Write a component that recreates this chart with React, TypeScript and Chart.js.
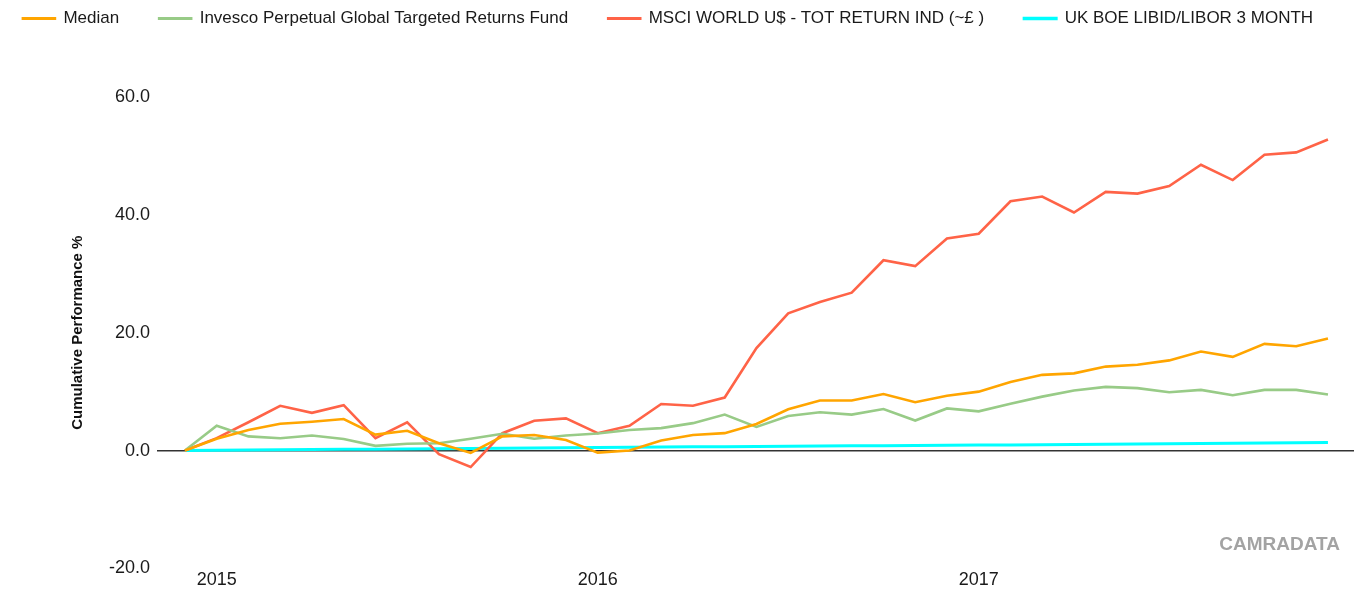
import React, { useEffect, useRef } from "react";
import { Chart, registerables } from "chart.js";

Chart.register(...registerables);

const seriesNames = [
  "Median",
  "Invesco Perpetual Global Targeted Returns Fund",
  "MSCI WORLD U$ - TOT RETURN IND (~£ )",
  "UK BOE LIBID/LIBOR 3 MONTH",
];

const seriesColors = ["#FFA500", "#98CB87", "#FF6347", "#00FFFF"];

// monthly points, Dec 2014 .. Dec 2017 (index 0..36)
const median = [0, 2.0, 3.5, 4.55, 4.9, 5.35, 2.7, 3.35, 1.25, -0.4, 2.4, 2.65, 1.8, -0.35, 0.0, 1.7, 2.65, 2.95, 4.5, 7.0, 8.5, 8.5, 9.6, 8.2, 9.3, 10.0, 11.65, 12.85, 13.1, 14.25, 14.55, 15.3, 16.8, 15.9, 18.1, 17.7, 19.0];
const invesco = [0, 4.2, 2.4, 2.1, 2.55, 1.95, 0.8, 1.15, 1.25, 2.0, 2.85, 2.0, 2.55, 2.9, 3.5, 3.8, 4.65, 6.1, 4.0, 5.85, 6.5, 6.1, 7.05, 5.1, 7.15, 6.65, 7.95, 9.15, 10.2, 10.8, 10.6, 9.9, 10.3, 9.4, 10.3, 10.3, 9.5];
const msci = [0, 2.1, 4.8, 7.6, 6.4, 7.7, 2.1, 4.8, -0.6, -2.8, 2.95, 5.05, 5.45, 2.95, 4.2, 7.9, 7.6, 9.0, 17.4, 23.3, 25.2, 26.8, 32.3, 31.3, 36.0, 36.8, 42.3, 43.1, 40.4, 43.9, 43.6, 44.9, 48.5, 45.9, 50.2, 50.6, 52.8];
const libor = [0, 0.04, 0.08, 0.12, 0.16, 0.2, 0.24, 0.28, 0.32, 0.36, 0.4, 0.44, 0.48, 0.52, 0.56, 0.6, 0.63, 0.66, 0.7, 0.73, 0.76, 0.8, 0.83, 0.86, 0.9, 0.93, 0.96, 1.0, 1.03, 1.06, 1.1, 1.14, 1.18, 1.22, 1.27, 1.32, 1.38];

const yearLabels = ["2015", "2016", "2017"];
const yearIndex = [1, 13, 25];

const yTicks = [-20, 0, 20, 40, 60];

const FONT = 'Arial, "Liberation Sans", sans-serif';

const legendSpacer = {
  id: "legendSpacer",
  beforeInit(chart: any) {
    const fit = chart.legend.fit;
    chart.legend.fit = function () {
      fit.call(this);
      this.height = 127;
    };
  },
};

const watermark = {
  id: "watermark",
  afterDraw(chart: any) {
    const ctx = chart.ctx;
    ctx.save();
    ctx.font = `bold 19px ${FONT}`;
    ctx.fillStyle = "#A3A3A3";
    ctx.textAlign = "right";
    ctx.textBaseline = "middle";
    ctx.fillText("CAMRADATA", chart.chartArea.right - 14, chart.chartArea.bottom - 24);
    ctx.restore();
  },
};

export default function App() {
  const ref = useRef<HTMLCanvasElement | null>(null);

  useEffect(() => {
    if (!ref.current) return;
    const all = [median, invesco, msci, libor];
    const chart = new Chart(ref.current, {
      type: "line",
      data: {
        datasets: all.map((vals, k) => ({
          label: seriesNames[k],
          data: vals.map((v, i) => ({ x: i, y: v })),
          borderColor: seriesColors[k],
          backgroundColor: seriesColors[k],
          borderWidth: k === 3 ? 3 : 2.6,
          pointRadius: 0,
          tension: 0,
          fill: false,
        })),
      },
      options: {
        animation: false,
        responsive: true,
        maintainAspectRatio: false,
        layout: { padding: { top: -30, left: -18, right: 0, bottom: 6 } },
        plugins: {
          legend: {
            position: "top",
            labels: {
              boxWidth: 32,
              boxHeight: 0.4,
              padding: 40,
              color: "#1a1a1a",
              font: { family: FONT, size: 17 },
            },
          },
          tooltip: { enabled: false },
        },
        scales: {
          x: {
            type: "linear",
            min: -0.88,
            max: 36.82,
            grid: { display: false, drawTicks: false },
            border: { display: false },
            afterBuildTicks: (axis: any) => {
              axis.ticks = yearIndex.map((v) => ({ value: v }));
            },
            ticks: {
              autoSkip: false,
              maxRotation: 0,
              padding: 1,
              color: "#1a1a1a",
              font: { family: FONT, size: 18 },
              callback: (v: any) => {
                const k = yearIndex.indexOf(Number(v));
                return k >= 0 ? yearLabels[k] : "";
              },
            },
          },
          y: {
            min: -20,
            max: 60,
            afterBuildTicks: (axis: any) => {
              axis.ticks = yTicks.map((v) => ({ value: v }));
            },
            afterFit: (axis: any) => {
              axis.width = 175;
            },
            grid: {
              drawTicks: false,
              color: (c: any) => (c.tick && c.tick.value === 0 ? "#333333" : "rgba(0,0,0,0)"),
              lineWidth: 1.6,
            },
            border: { display: false },
            ticks: {
              padding: 7,
              color: "#1a1a1a",
              font: { family: FONT, size: 18 },
              callback: (v: any) => Number(v).toFixed(1),
            },
            title: {
              display: true,
              text: "Cumulative Performance %",
              color: "#111",
              font: { family: FONT, size: 15, weight: "bold" },
              padding: { top: 87, bottom: 0 },
            },
          },
        },
      },
      plugins: [legendSpacer, watermark],
    } as any);
    return () => chart.destroy();
  }, []);

  return (
    <div style={{ position: "absolute", left: 0, top: 0, width: 1354, height: 598 }}>
      <canvas ref={ref} />
    </div>
  );
}
